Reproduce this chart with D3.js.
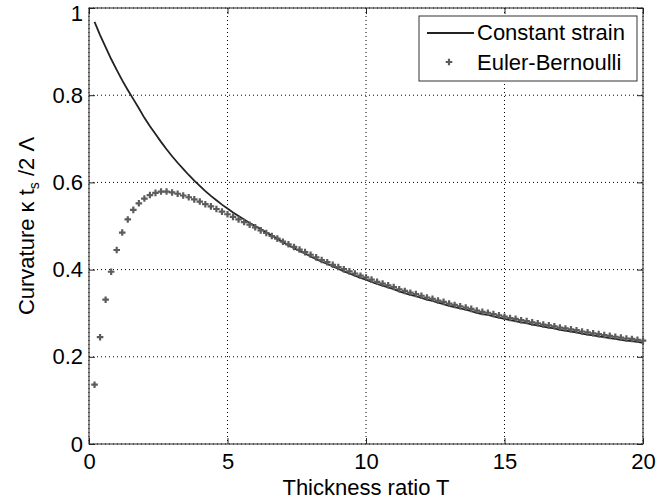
<!DOCTYPE html>
<html>
<head>
<meta charset="utf-8">
<script src="https://d3js.org/d3.v7.min.js"></script>
<style>
  body { margin: 0; background: #fff; }
  svg text { font-family: "Liberation Sans", Arial, Helvetica, sans-serif; fill: #000; }
</style>
</head>
<body>
<div id="chart"></div>
<script>
// thickness ratio T (x values)
var thickness = [
  0.2, 0.4, 0.6, 0.8, 1.0, 1.2, 1.4, 1.6, 1.8, 2.0,
  2.2, 2.4, 2.6, 2.8, 3.0, 3.2, 3.4, 3.6, 3.8, 4.0,
  4.2, 4.4, 4.6, 4.8, 5.0, 5.2, 5.4, 5.6, 5.8, 6.0,
  6.2, 6.4, 6.6, 6.8, 7.0, 7.2, 7.4, 7.6, 7.8, 8.0,
  8.2, 8.4, 8.6, 8.8, 9.0, 9.2, 9.4, 9.6, 9.8, 10.0,
  10.2, 10.4, 10.6, 10.8, 11.0, 11.2, 11.4, 11.6, 11.8, 12.0,
  12.2, 12.4, 12.6, 12.8, 13.0, 13.2, 13.4, 13.6, 13.8, 14.0,
  14.2, 14.4, 14.6, 14.8, 15.0, 15.2, 15.4, 15.6, 15.8, 16.0,
  16.2, 16.4, 16.6, 16.8, 17.0, 17.2, 17.4, 17.6, 17.8, 18.0,
  18.2, 18.4, 18.6, 18.8, 19.0, 19.2, 19.4, 19.6, 19.8, 20.0
];

// constant strain model (solid line)
var constantStrain = [
  0.968, 0.938, 0.910, 0.883, 0.858, 0.834, 0.812, 0.791, 0.770, 0.748,
  0.729, 0.711, 0.693, 0.676, 0.660, 0.645, 0.631, 0.617, 0.604, 0.592,
  0.580, 0.569, 0.559, 0.549, 0.540, 0.531, 0.523, 0.515, 0.507, 0.500,
  0.493, 0.485, 0.478, 0.471, 0.463, 0.456, 0.449, 0.443, 0.437, 0.430,
  0.424, 0.418, 0.413, 0.407, 0.402, 0.396, 0.391, 0.386, 0.381, 0.377,
  0.372, 0.367, 0.363, 0.359, 0.355, 0.350, 0.346, 0.342, 0.339, 0.335,
  0.331, 0.328, 0.324, 0.321, 0.317, 0.314, 0.311, 0.308, 0.305, 0.301,
  0.298, 0.296, 0.293, 0.290, 0.287, 0.284, 0.282, 0.279, 0.277, 0.274,
  0.272, 0.269, 0.267, 0.265, 0.262, 0.260, 0.258, 0.256, 0.253, 0.251,
  0.249, 0.247, 0.245, 0.243, 0.241, 0.239, 0.237, 0.236, 0.234, 0.232
];

// Euler-Bernoulli model (markers)
var eulerBernoulli = [
  0.136, 0.245, 0.331, 0.395, 0.445, 0.485, 0.515, 0.537, 0.552, 0.563,
  0.571, 0.576, 0.579, 0.579, 0.577, 0.574, 0.570, 0.566, 0.561, 0.556,
  0.550, 0.545, 0.539, 0.533, 0.527, 0.521, 0.515, 0.509, 0.503, 0.497,
  0.490, 0.484, 0.477, 0.471, 0.464, 0.458, 0.452, 0.446, 0.440, 0.434,
  0.428, 0.422, 0.417, 0.411, 0.406, 0.401, 0.396, 0.391, 0.386, 0.382,
  0.377, 0.372, 0.368, 0.364, 0.360, 0.355, 0.351, 0.347, 0.344, 0.340,
  0.336, 0.333, 0.329, 0.326, 0.322, 0.319, 0.316, 0.313, 0.310, 0.306,
  0.303, 0.301, 0.298, 0.295, 0.292, 0.289, 0.287, 0.284, 0.282, 0.279,
  0.277, 0.274, 0.272, 0.270, 0.267, 0.265, 0.263, 0.261, 0.258, 0.256,
  0.254, 0.252, 0.250, 0.248, 0.246, 0.244, 0.242, 0.241, 0.239, 0.237
];

var xTicks = [0, 5, 10, 15, 20];
var yTicks = [0, 0.2, 0.4, 0.6, 0.8, 1];
var yTickLabels = ["0", "0.2", "0.4", "0.6", "0.8", "1"];
var seriesNames = ["Constant strain", "Euler-Bernoulli"];

var W = 657, H = 503;
var margin = {top: 8, right: 14, bottom: 59, left: 89};
var width = W - margin.left - margin.right,
    height = H - margin.top - margin.bottom;
var fontSize = 22;

var svg = d3.select("#chart").append("svg")
  .attr("width", W).attr("height", H);
var g = svg.append("g").attr("transform", "translate(" + margin.left + "," + margin.top + ")");

var x = d3.scaleLinear().domain([0, 20]).range([0, width]);
var y = d3.scaleLinear().domain([0, 1]).range([height, 0]);

// dotted grid
g.append("g").selectAll("line").data(xTicks).join("line")
  .attr("x1", function(d) { return x(d); }).attr("x2", function(d) { return x(d); })
  .attr("y1", 0).attr("y2", height)
  .attr("stroke", "#000").attr("stroke-width", 1).attr("stroke-dasharray", "1,3");
g.append("g").selectAll("line").data(yTicks).join("line")
  .attr("x1", 0).attr("x2", width)
  .attr("y1", function(d) { return y(d); }).attr("y2", function(d) { return y(d); })
  .attr("stroke", "#000").attr("stroke-width", 1).attr("stroke-dasharray", "1,3");

// axes, ticks pointing inwards like matlab
g.append("g").attr("transform", "translate(0," + height + ")")
  .call(d3.axisBottom(x).tickValues(xTicks).tickSize(-6).tickPadding(9).tickFormat(d3.format("")));
g.append("g")
  .call(d3.axisLeft(y).tickValues(yTicks).tickSize(-6).tickPadding(6)
    .tickFormat(function(d, i) { return yTickLabels[i]; }));
g.append("g").call(d3.axisTop(x).tickValues(xTicks).tickSize(-6).tickFormat(""));
g.append("g").attr("transform", "translate(" + width + ",0)")
  .call(d3.axisRight(y).tickValues(yTicks).tickSize(-6).tickFormat(""));
g.selectAll(".domain").remove();
g.selectAll(".tick line").attr("stroke", "#222");
g.selectAll(".tick text").attr("font-size", fontSize).attr("font-family", null).attr("fill", "#000");
// keep the top "1" inside the page
g.selectAll(".tick text").filter(function(d) { return d === 1; }).attr("dy", null).attr("y", 12);

// box
g.append("rect").attr("x", 0).attr("y", 0).attr("width", width).attr("height", height)
  .attr("fill", "none").attr("stroke", "#222").attr("stroke-width", 1);

// constant strain line
var line = d3.line()
  .x(function(d, i) { return x(thickness[i]); })
  .y(function(d) { return y(d); });
g.append("path").datum(constantStrain)
  .attr("d", line)
  .attr("fill", "none").attr("stroke", "#222").attr("stroke-width", 1.8);

// Euler-Bernoulli markers
var marker = d3.symbol().type(d3.symbolCross).size(24);
g.append("g").selectAll("path").data(eulerBernoulli).join("path")
  .attr("transform", function(d, i) { return "translate(" + x(thickness[i]) + "," + y(d) + ")"; })
  .attr("d", marker)
  .attr("fill", "#5c5c5c");

// axis titles
svg.append("text")
  .attr("x", margin.left + width / 2).attr("y", 495)
  .attr("text-anchor", "middle").attr("font-size", fontSize)
  .text("Thickness ratio T");

var yt = svg.append("text")
  .attr("transform", "translate(34," + (margin.top + height / 2) + ") rotate(-90)")
  .attr("text-anchor", "middle").attr("font-size", fontSize);
yt.append("tspan").text("Curvature \u03ba t");
yt.append("tspan").attr("font-size", 14).attr("dy", 5).text("s");
yt.append("tspan").attr("dy", -5).text(" /2 \u039b");

// legend
var lg = svg.append("g").attr("transform", "translate(419,16)");
lg.append("rect").attr("width", 218).attr("height", 65)
  .attr("fill", "#fff").attr("stroke", "#333").attr("stroke-width", 1);
lg.append("line").attr("x1", 8).attr("x2", 55).attr("y1", 17).attr("y2", 17)
  .attr("stroke", "#222").attr("stroke-width", 1.8);
lg.append("path").attr("transform", "translate(30,46)").attr("d", marker).attr("fill", "#5c5c5c");
lg.selectAll("text.lab").data(seriesNames).join("text")
  .attr("class", "lab")
  .attr("x", 58).attr("y", function(d, i) { return 24 + i * 30; })
  .attr("font-size", fontSize)
  .text(function(d) { return d; });
</script>
</body>
</html>
